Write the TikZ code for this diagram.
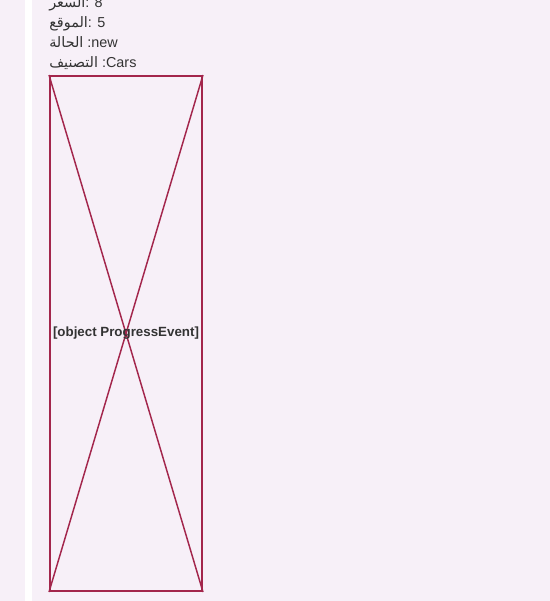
\documentclass[tikz,border=0pt]{standalone}
\usepackage{fontspec}
\setmainfont{Liberation Sans}
\newfontfamily\arabicfont[Script=Arabic]{DejaVu Sans}
\TeXXeTstate=1
\usepackage{tikz}
\usetikzlibrary{positioning}

\definecolor{pagebg}{HTML}{F7F0F8}
\definecolor{framered}{HTML}{A3264C}
\definecolor{textgray}{HTML}{333333}

\begin{document}
\begin{tikzpicture}[x=0.75pt, y=-0.75pt,
    field/.style={anchor=base west, inner sep=0pt, text=textgray, font=\fontsize{10.8}{13}\selectfont}]
      % fond
      \fill[pagebg] (0, 0) rectangle (550, 601);
      \useasboundingbox (0, 0) rectangle (550, 601);
      \fill[white] (25, 0) rectangle (32, 601);

      % champs
      \node[field] (price) at (49, 7) {{\arabicfont\beginR السعر\endR}: 8};
      \node[field] (place) at (49, 27) {{\arabicfont\beginR الموقع\endR}: 5};
      \node[field] (state) at (49, 47) {{\arabicfont\beginR الحالة\endR} :new};
      \node[field] (category) at (49, 67) {{\arabicfont\beginR التصنيف\endR} :Cars};

      % image
      \node[rectangle, minimum width = 114pt, minimum height = 386.25pt, draw = framered, line width = 1.5pt, anchor = north west, inner sep = 0pt] (image) at (49, 75) {};
      \draw[framered, line width = 1.1pt] (image.north west) -- (image.south east);
      \draw[framered, line width = 1.1pt] (image.north east) -- (image.south west);
      \node[text = textgray, font = \fontsize{10}{12}\selectfont\bfseries, inner sep = 0pt] (caption) at (image.center) {[object ProgressEvent]};
    \end{tikzpicture}
\end{document}
